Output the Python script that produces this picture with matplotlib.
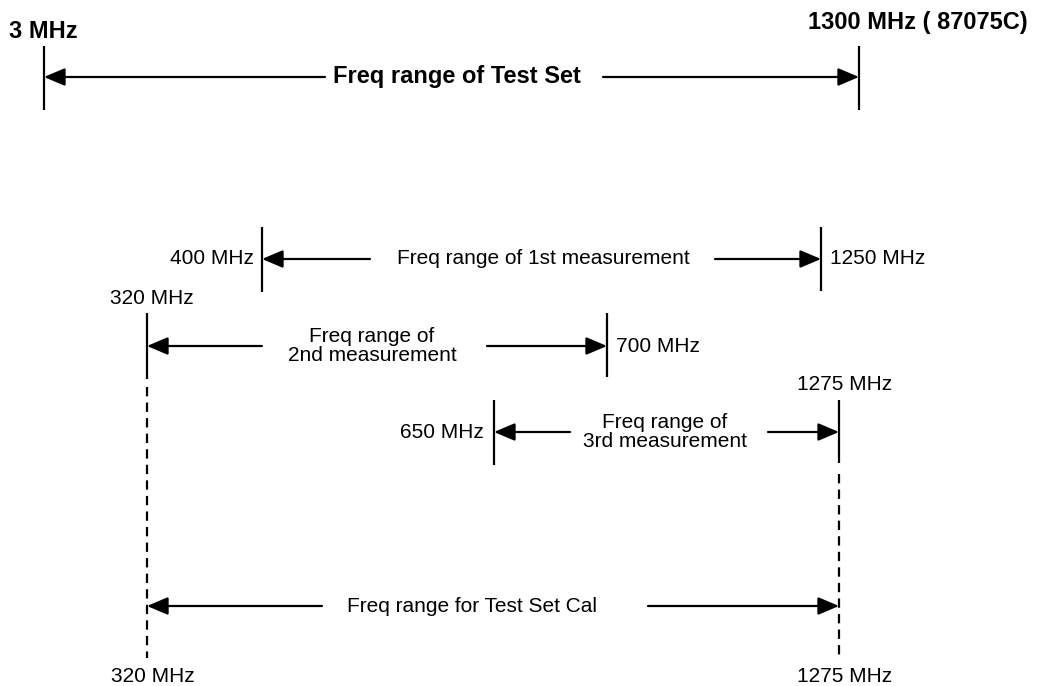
import matplotlib.pyplot as plt

plt.rcParams['font.family'] = ['Liberation Sans', 'DejaVu Sans']

# données : plages de fréquence (MHz)
range_labels = ["Freq range of Test Set", "Freq range of 1st measurement",
                "Freq range of\n2nd measurement", "Freq range of\n3rd measurement",
                "Freq range for Test Set Cal"]
range_lo = [3, 400, 320, 650, 320]
range_hi = [1300, 1250, 700, 1275, 1275]

# repères verticaux (fréquence, texte)
marker_freq = [3, 1300, 400, 1250, 320, 700, 650, 1275]
marker_text = ["3 MHz", "1300 MHz ( 87075C)", "400 MHz", "1250 MHz",
               "320 MHz", "700 MHz", "650 MHz", "1275 MHz"]
bottom_freq = [320, 1275]
bottom_text = ["320 MHz", "1275 MHz"]

# mise en page du schéma (coordonnées en pixels, axe non linéaire)
x_of = {3: 44, 320: 147, 400: 262, 650: 494, 700: 607, 1250: 821, 1275: 839, 1300: 859}
row_y = [77, 259, 346, 432, 606]
text_x = [457, 543, 372, 665, 472]
gap_l = [325, 370, 262, 570, 322]
gap_r = [603, 715, 487, 768, 648]
row_bold = [True, False, False, False, False]

tick_span = {3: (46, 110), 1300: (46, 110), 400: (227, 292), 1250: (227, 291),
             320: (313, 379), 700: (313, 377), 650: (400, 465), 1275: (400, 463)}
dash_span = {320: (387, 658), 1275: (474, 658)}
label_pos = {3: (43, 32, 'center'), 1300: (808, 22, 'left'), 400: (254, 259, 'right'),
             1250: (830, 259, 'left'), 320: (152, 299, 'center'), 700: (616, 346, 'left'),
             650: (484, 432, 'right'), 1275: (845, 384, 'center')}

fig = plt.figure(figsize=(10.38, 6.86), dpi=100)
ax = fig.add_axes([0, 0, 1, 1])
ax.set_xlim(0, 1038)
ax.set_ylim(686, 0)
ax.axis('off')

lw = 1.6
arrow = dict(arrowstyle='-|>,head_length=0.85,head_width=0.36', color='black',
             lw=lw, shrinkA=0, shrinkB=0, mutation_scale=15)

# traits verticaux
for f in marker_freq:
    y0, y1 = tick_span[f]
    ax.plot([x_of[f], x_of[f]], [y0, y1], color='black', lw=lw, solid_capstyle='butt')
for f, (y0, y1) in dash_span.items():
    ax.plot([x_of[f], x_of[f]], [y0, y1], color='black', lw=lw,
            linestyle=(0, (4.2, 2.8)), dash_capstyle='butt')

# flèches et libellés des plages
for i in range(len(range_labels)):
    y = row_y[i]
    ax.annotate('', xy=(x_of[range_lo[i]], y), xytext=(gap_l[i], y), arrowprops=arrow)
    ax.annotate('', xy=(x_of[range_hi[i]], y), xytext=(gap_r[i], y), arrowprops=arrow)
    if row_bold[i]:
        ax.text(text_x[i], y, range_labels[i], ha='center', va='center',
                fontsize=17, fontweight='bold')
    else:
        ax.text(text_x[i], y, range_labels[i], ha='center', va='center',
                fontsize=15, linespacing=0.95)

# libellés des fréquences
for f, t in zip(marker_freq, marker_text):
    x, y, ha = label_pos[f]
    bold = f in (3, 1300)
    ax.text(x, y, t, ha=ha, va='center', fontsize=17 if bold else 15,
            fontweight='bold' if bold else 'normal')
for f, t in zip(bottom_freq, bottom_text):
    ax.text(x_of[f] + 6, 676, t, ha='center', va='center', fontsize=15)

plt.savefig("out.png", dpi=100)
plt.close()
